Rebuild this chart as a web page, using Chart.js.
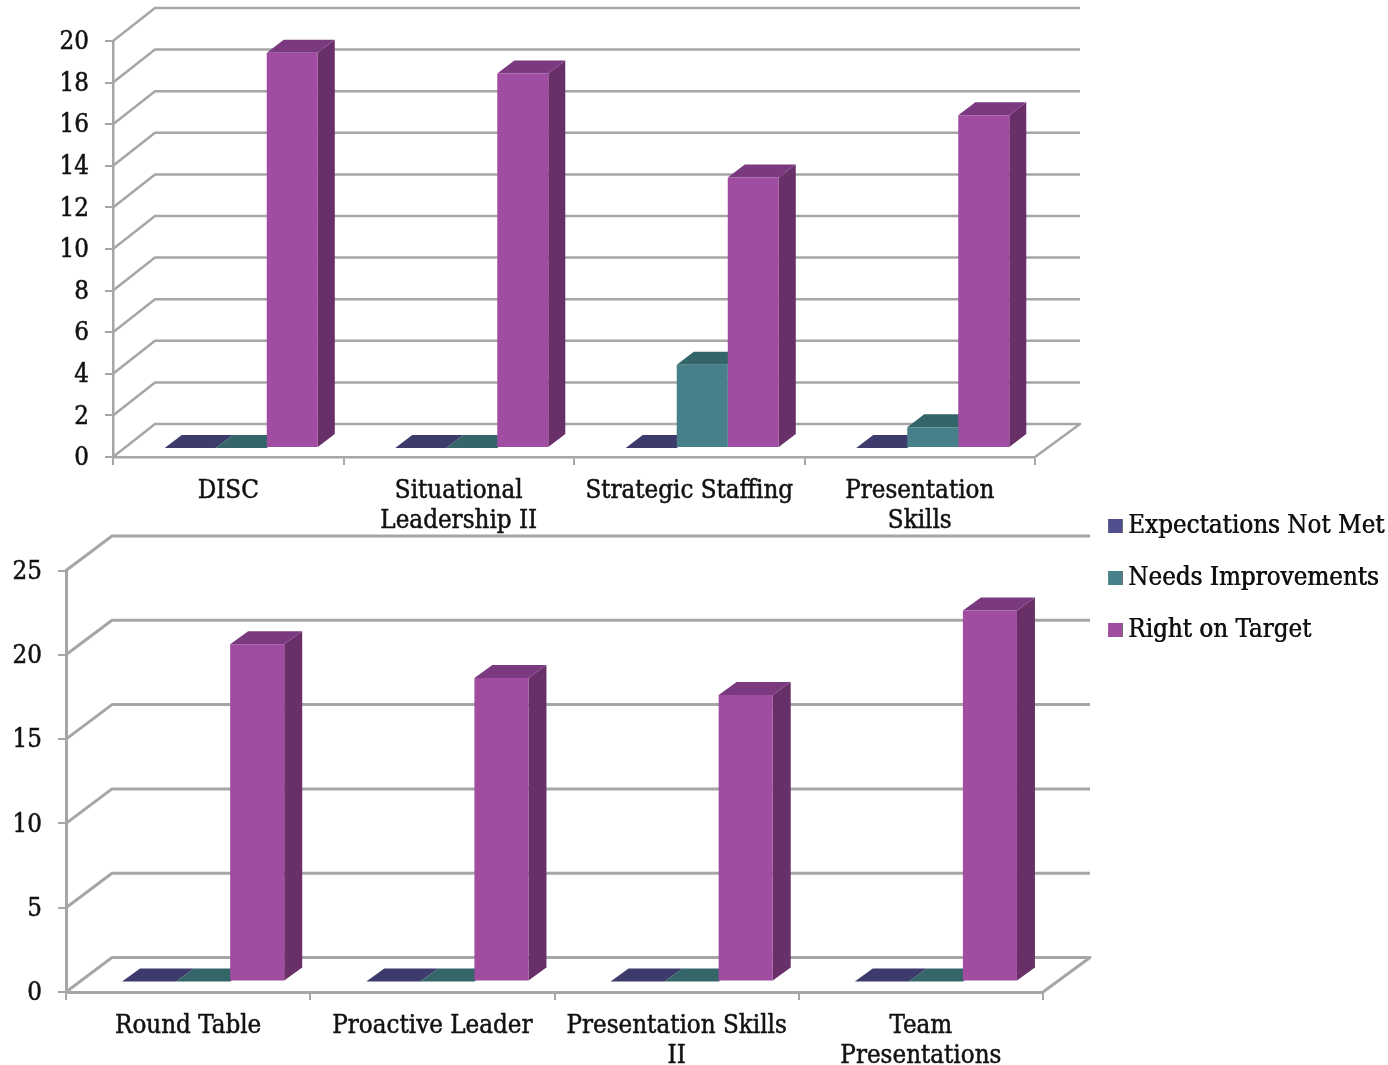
<!DOCTYPE html>
<html><head><meta charset="utf-8">
<style>html,body{margin:0;padding:0;background:#fff}canvas{position:absolute;left:0;top:0}</style>
<script src="https://cdn.jsdelivr.net/npm/chart.js@4"></script>
</head><body>
<canvas id="c1" width="1388" height="1065"></canvas>
<canvas id="c2" width="1388" height="1065"></canvas>
<script>
const seriesNames = ['Expectations Not Met', 'Needs Improvements', 'Right on Target'];
const categories1 = ['DISC', ['Situational', 'Leadership II'], 'Strategic Staffing', ['Presentation', 'Skills']];
const notMet1 = [0, 0, 0, 0];
const needs1 = [0, 0, 4, 1];
const onTarget1 = [19, 18, 13, 16];
const categories2 = ['Round Table', 'Proactive Leader', ['Presentation Skills', 'II'], ['Team', 'Presentations']];
const notMet2 = [0, 0, 0, 0];
const needs2 = [0, 0, 0, 0];
const onTarget2 = [20, 18, 17, 22];
const frontColors = ['#4F4F8F', '#47808A', '#9F4CA1'];
const topColors = ['#3D3B6B', '#346569', '#7B3980'];
const sideColors = ['#33305A', '#2F5A62', '#682F68'];
const gridColor = '#A6A6A6';
const FONT = {family: '"DejaVu Serif Condensed","DejaVu Serif",serif', size: 25.7, weight: '500', lineHeight: 1.17};
const STROKE = 0.5;

function depthPlugin(cfg) {
  return {
    id: 'depth',
    beforeDatasetsDraw(chart) {
      const {ctx, chartArea: a, scales: {x, y}} = chart;
      ctx.save();
      ctx.strokeStyle = gridColor; ctx.lineWidth = cfg.gridWidth; ctx.lineJoin = 'round';
      y.ticks.forEach(t => {
        const py = y.getPixelForValue(t.value);
        ctx.beginPath(); ctx.moveTo(a.left, py);
        ctx.lineTo(a.left + cfg.wallDx, py + cfg.wallDy);
        ctx.lineTo(cfg.backRight, py + cfg.wallDy);
        if (t.value === 0) ctx.lineTo(a.right, py);
        ctx.stroke();
      });
      ctx.restore();
      ctx.save();
      ctx.translate(cfg.barDx, cfg.barDy);
      chart.data.datasets.forEach((ds, i) => {
        chart.getDatasetMeta(i).data.forEach(b => {
          const l = b.x - b.width / 2, r = b.x + b.width / 2, t = b.y, bt = b.base;
          const dx = cfg.faceDx, dy = cfg.faceDy;
          if (bt - t > 0) {
            ctx.fillStyle = sideColors[i];
            ctx.beginPath(); ctx.moveTo(r, t); ctx.lineTo(r + dx, t + dy); ctx.lineTo(r + dx, bt + dy); ctx.lineTo(r, bt); ctx.closePath(); ctx.fill();
          }
          ctx.fillStyle = topColors[i];
          ctx.beginPath(); ctx.moveTo(l, t); ctx.lineTo(l + dx, t + dy); ctx.lineTo(r + dx, t + dy); ctx.lineTo(r, t); ctx.closePath(); ctx.fill();
        });
      });
    },
    afterDatasetsDraw(chart) { chart.ctx.restore(); },
    afterLayout(chart) {
      chart.scales.y.getLabelItems(chart.chartArea).forEach(it => { it.textOffset += 1.5; });
      const lg = chart.legend;
      if (lg && lg.options.display) {
        lg.left = cfg.legendLeft; lg.top = cfg.legendTop;
        lg.right = 1388; lg.bottom = 1065; lg.width = lg.right - lg.left; lg.height = lg.bottom - lg.top;
        if (!lg._boldWrapped) {
          lg._boldWrapped = true;
          const origDraw = lg.draw.bind(lg);
          lg.draw = function () {
            const c = chart.ctx;
            c.save(); c.shadowColor = '#111'; c.shadowBlur = 0; c.shadowOffsetX = 0.6;
            origDraw(); c.restore();
          };
        }
      }
    }
  };
}

function makeBox(color) {
  const c = document.createElement('canvas');
  c.width = 16; c.height = 14;
  const g = c.getContext('2d');
  g.fillStyle = color; g.fillRect(2, 0, 14, 14);
  return c;
}

function makeChart(id, labels, values, yMax, yStep, padding, cfg, showLegend) {
  return new Chart(document.getElementById(id), {
    type: 'bar',
    data: {
      labels,
      datasets: values.map((v, i) => ({label: seriesNames[i], data: v, backgroundColor: frontColors[i], clip: false,
        barPercentage: 1, categoryPercentage: 0.664}))
    },
    options: {
      responsive: false, animation: false,
      layout: {padding},
      plugins: {
        tooltip: {enabled: false},
        legend: {
          display: showLegend, position: 'chartArea', align: 'start',
          labels: {
            font: FONT, color: '#111', padding: 26.3, usePointStyle: true, pointStyleWidth: 2, boxHeight: 14,
            generateLabels(ch) {
              return Chart.defaults.plugins.legend.labels.generateLabels(ch).map((it, i) => {
                it.pointStyle = makeBox(frontColors[i]); return it;
              });
            }
          }
        }
      },
      scales: {
        x: {
          afterFit(s) { s.height = padding.axisH; },
          grid: {offset: true, drawOnChartArea: false, tickLength: 8, color: gridColor, lineWidth: 2},
          border: {color: gridColor, width: cfg.gridWidth},
          ticks: {font: FONT, color: '#111', padding: cfg.xPad, maxRotation: 0, autoSkip: false,
                  textStrokeColor: '#111', textStrokeWidth: STROKE}
        },
        y: {
          min: 0, max: yMax,
          afterFit(s) { s.width = padding.axisW; },
          grid: {drawOnChartArea: false, tickLength: 8, color: gridColor, lineWidth: 2},
          border: {color: gridColor, width: cfg.gridWidth},
          ticks: {stepSize: yStep, font: FONT, color: '#111', padding: 16,
                  textStrokeColor: '#111', textStrokeWidth: STROKE}
        }
      }
    },
    plugins: [depthPlugin(cfg)]
  });
}

makeChart('c1', categories1, [notMet1, needs1, onTarget1], 20, 2,
  {left: 0, top: 41, right: 353, bottom: 528, axisW: 113, axisH: 80},
  {gridWidth: 2.5, wallDx: 42, wallDy: -33, backRight: 1080, barDx: 13, barDy: -9, faceDx: 17, faceDy: -13, xPad: 11}, false);
makeChart('c2', categories2, [notMet2, needs2, onTarget2], 25, 5,
  {left: 0, top: 570.5, right: 345, bottom: 0, axisW: 66, axisH: 73},
  {gridWidth: 3, wallDx: 46, wallDy: -34.5, backRight: 1090, barDx: 15, barDy: -10.5, faceDx: 18, faceDy: -13, xPad: 11,
   legendLeft: 1113.15 - 26.3, legendTop: 526 - 12.85 - 26.3}, true);
</script>
</body></html>
